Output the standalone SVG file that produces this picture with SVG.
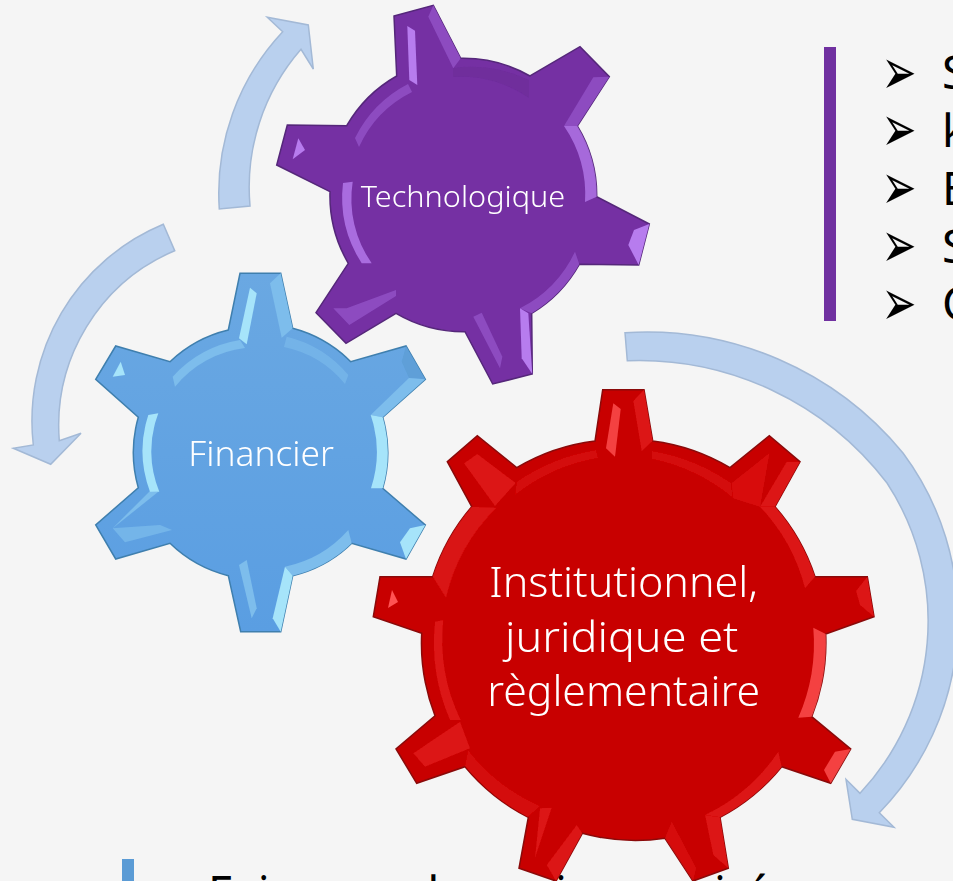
<svg xmlns="http://www.w3.org/2000/svg" width="953" height="881" viewBox="0 0 953 881">
<style>
.arrow{fill:#b9d0ee;stroke:#a3b9d6;stroke-width:1.5;stroke-linejoin:miter}
.label{font-family:"Noto Sans","Open Sans","Liberation Sans",sans-serif;fill:#fff;font-weight:300}
.body{font-family:"Noto Sans","Open Sans","Liberation Sans",sans-serif;fill:#000;font-size:46px}
.bul{font-family:"DejaVu Sans",sans-serif;fill:#000;font-size:38px}
.soft{filter:url(#soft)}
#gear-tech .base{fill:#7530a3;stroke:#55277a;stroke-width:1.5}
#gear-tech .hl{fill:#b77cee}
#gear-tech .mid{fill:#8d4cc0}
#gear-tech .low{fill:#6f2d9c}
#gear-fin .base{fill:url(#bluefill);stroke:#3f7fae;stroke-width:1.5}
#gear-fin .hl{fill:#a6e4fa}
#gear-fin .mid{fill:#7dbdec}
#gear-fin .low{fill:#5e9fd8}
#gear-inst .base{fill:#c80000;stroke:#8a0a0a;stroke-width:1.5}
#gear-inst .hl{fill:#ff5252}
#gear-inst .mid{fill:#dc1414}
#gear-inst .low{fill:#d40808}
</style>
<defs>
<filter id="soft" x="-5%" y="-5%" width="110%" height="110%"><feGaussianBlur stdDeviation="0.7"/></filter>
<linearGradient id="bluefill" x1="0" y1="0" x2="0" y2="1"><stop offset="0" stop-color="#6aa8e2"/><stop offset="1" stop-color="#5a9ee2"/></linearGradient>
</defs>
<rect width="953" height="881" fill="#f5f5f5"/>

<g id="connectors">
<path class="arrow" d="M163.3,224.3 A213 213 0 0 0 33.3,445 L13.3,448.3 L50.7,464.3 L81,433.3 L59.3,440.7 A190 190 0 0 1 174.7,250.7 Z"/>
<path class="arrow" d="M219.3,209 A236 236 0 0 1 282.7,31.7 L267.3,17.3 L308.3,25 L313.3,69 L301,49.3 A210 210 0 0 0 250,206 Z"/>
<path class="arrow" d="M625,332.7 A332 332 0 0 1 903,453 A278 278 0 0 1 879.3,812.7 L894,827.3 L852.3,819.3 L846,779.3 L860,793.3 A252 252 0 0 0 887,483 A312 312 0 0 0 627.3,360.7 Z"/>
</g>

<g id="list-top">
<rect x="824" y="47" width="12" height="274" fill="#7030a0"/>
<text class="bul" transform="translate(881.6,93.8) scale(1.1,1.7)">➢</text>
<text class="bul" transform="translate(881.6,151.3) scale(1.1,1.7)">➢</text>
<text class="bul" transform="translate(881.6,209.3) scale(1.1,1.7)">➢</text>
<text class="bul" transform="translate(881.6,267) scale(1.1,1.7)">➢</text>
<text class="bul" transform="translate(881.6,324.7) scale(1.1,1.7)">➢</text>
<text class="body" x="942" y="89">S</text>
<text class="body" x="942" y="147">k</text>
<text class="body" x="942" y="205">E</text>
<text class="body" x="942" y="263">S</text>
<text class="body" x="942" y="320">C</text>
</g>

<g id="list-bottom">
<rect x="122" y="859" width="12" height="22" fill="#5b9bd5"/>
<text class="bul" transform="translate(146.6,915.5) scale(1.1,1.7)">➢</text>
<text class="body" x="208" y="909">Fai</text>
<text class="body" x="411" y="909">d</text>
<text class="body" x="555" y="909">i</text>
<text class="body" x="714" y="909">i</text>
<text class="body" x="745" y="909">é</text>
</g>

<g id="gear-tech">
<path class="base" d="M394,16 L433.3,5.3 L460.7,58.3 A134 134 0 0 1 530,76 L580,46.7 L609.3,76.7 L577.3,126 A134 134 0 0 1 596.7,196.7 L649.3,224 L638.7,265 L579.3,264.3 A134 134 0 0 1 531.7,313.3 L532.3,374 L492.7,384 L465,331.7 A134 134 0 0 1 396,313.3 L346,343.3 L316,312.7 L348.3,263.3 A134 134 0 0 1 330,191.7 L276.7,165 L287.3,125 L346.7,125.7 A134 134 0 0 1 396.7,76 Z"/>
<g class="soft">
<path class="low" d="M453,68 A134 134 0 0 1 529,80 L529,98 A122 122 0 0 0 453,77 Z"/>
<path class="mid" d="M355,138 A122 122 0 0 1 408,84 L412,92 A114 114 0 0 0 359,147 Z"/>
<path class="mid" d="M428.3,16.7 L433.3,5.3 L460.7,58.3 L453.3,68.3 Z"/>
<path class="hl" d="M407.3,26 L415,30.7 L417.3,85 L409.3,80 Z"/>
<path class="mid" d="M593.3,77.3 L609.3,76.7 L577.3,126 L564,126 Z"/>
<path class="hl" d="M564,126 L577.3,126 A134 134 0 0 1 596.7,196.7 L585,202 A122 122 0 0 0 564,126 Z" opacity=".75"/>
<path class="hl" d="M649.3,224 L638.7,265 L628.3,245 L634,230 Z"/>
<path class="mid" d="M575,251.7 L579.3,264.3 A134 134 0 0 1 531.7,313.3 L520,308.3 A122 122 0 0 0 575,251.7 Z"/>
<path class="mid" d="M473.3,316.7 L481.7,312.7 L502.3,356.7 L500,368.3 Z"/>
<path class="hl" d="M520,308.3 L528.3,313.3 L532.3,374 L521.7,358.3 Z"/>
<path class="mid" d="M333.3,308.3 L349.3,325 L396,296 L396,290 L346.7,308.3 Z"/>
<path class="hl" d="M343,183 A122 122 0 0 0 361.7,263.3 L371.7,263.3 A112 112 0 0 1 352.7,181.7 Z" opacity=".8"/>
<path class="hl" d="M298.3,138.3 L305,150 L292.7,159.3 Z"/>
</g>
<text class="label" x="360.7" y="206.7" font-size="30" textLength="204.5" lengthAdjust="spacingAndGlyphs">Technologique</text>
</g>

<g id="gear-fin">
<path class="base" d="M228.3,330 L240,273.3 L280.7,273.3 L292.7,328.3 A128 128 0 0 1 350.7,361.7 L406,346 L425.3,379.3 L382.7,417.3 A128 128 0 0 1 382.7,488.3 L425.3,525 L406,559 L351.7,543.3 A128 128 0 0 1 292.7,575.7 L280.7,631.7 L240.7,631.7 L228.3,575.7 A128 128 0 0 1 170,543.3 L115.7,559 L95.7,525 L138.3,487.7 A128 128 0 0 1 138.3,417.3 L95.7,379.3 L115.7,346 L170,361.7 A128 128 0 0 1 228.3,330 Z"/>
<g class="soft">
<path class="hl" d="M250,287.7 L256.7,293.3 L246.7,344.3 L239,338.3 Z"/>
<path class="mid" d="M270,283.3 L280.7,273.3 L292.7,328.3 L281.7,337.7 Z"/>
<path class="hl" d="M120.7,361.7 L125,375 L112.7,376.7 Z"/>
<path class="mid" d="M172.7,376.7 A116 116 0 0 1 240,340 L245,348 A106 106 0 0 0 175,386.7 Z"/>
<path class="mid" d="M286.7,336.7 A116 116 0 0 1 348.3,375 L345,384 A106 106 0 0 0 284,347 Z" opacity=".6"/>
<path class="low" d="M406,346 L401.7,361.7 L409,378 L425.3,379.3 Z"/>
<path class="mid" d="M409,378 L425.3,379.3 L382.7,417.3 L370.7,415 Z"/>
<path class="hl" d="M370.7,415 L382.7,417.3 A128 128 0 0 1 382.7,488.3 L371,488.3 A116 116 0 0 0 370.7,415 Z"/>
<path class="hl" d="M410,528.3 L425.3,525 L406,559 L400,542.3 Z"/>
<path class="mid" d="M348.3,530 L351.7,543.3 A128 128 0 0 1 292.7,575.7 L285,566.7 A116 116 0 0 0 348.3,530 Z"/>
<path class="mid" d="M239,565 L246.7,560 L256.7,608.3 L251.7,618.3 Z"/>
<path class="hl" d="M285,566.7 L292.7,575.7 L280.7,631.7 L272.7,618.3 Z"/>
<path class="mid" d="M112.7,528.3 L158,492 L150,491 Z"/>
<path class="mid" d="M112.7,528.3 L125,542.3 L172,530 L160,525 Z" opacity=".7"/>
<path class="hl" d="M158.3,413.3 L148.3,415 A116 116 0 0 0 150,491.7 L159.3,491.7 A106 106 0 0 1 158.3,413.3 Z"/>
</g>
<text class="label" x="188.3" y="466" font-size="35" textLength="145.7" lengthAdjust="spacingAndGlyphs">Financier</text>
</g>

<g id="gear-inst">
<path class="base" d="M595,441 L602.7,389.7 L644,389.7 L652.7,441 A201 201 0 0 1 730,467.7 L769.3,435.7 L800,461.7 L775,506.7 A201 201 0 0 1 815,576.7 L867.3,576.7 L874,616.7 L825.7,634 A201 201 0 0 1 811.7,716.7 L850.7,749 L830.7,783.3 L781.7,766.7 A201 201 0 0 1 720,817.3 L728.3,868.3 L693,881 L665,838.3 A201 201 0 0 1 582.3,833.3 L556,881 L519,868.3 L528.3,817.3 A201 201 0 0 1 465,766.7 L416.7,783.3 L396,749 L435,715.7 A201 201 0 0 1 421.7,633.3 L373.3,616.7 L380,576.7 L432.7,576.7 A201 201 0 0 1 471.7,506.7 L447.3,461.7 L477.3,435.7 L516.7,467.7 A201 201 0 0 1 595,441 Z"/>
<g class="soft">
<path class="hl" d="M613.3,403.3 L620.7,409 L615,456.7 L606,448.3 Z" opacity=".8"/>
<path class="mid" d="M633.3,401 L644,389.7 L652.7,441 L641.7,451 Z"/>
<path class="mid" d="M464,463.3 L477.3,454 L515.7,483 L495,506 Z"/>
<path class="low" d="M516.7,481.7 A195 195 0 0 1 596,450 L598,458 A185 185 0 0 0 515,495 Z"/>
<path class="low" d="M652,451 A195 195 0 0 1 731,483 L733,498 A185 185 0 0 0 652,459 Z"/>
<path class="mid" d="M471.7,506.7 A201 201 0 0 0 432.7,576.7 L446,598 A185 185 0 0 1 496.7,507.7 Z" opacity=".85"/>
<path class="hl" d="M392,590 L398,602 L388,608 Z"/>
<path class="mid" d="M435,621.7 L443.3,620 A185 185 0 0 0 460.7,720 L450,720 A195 195 0 0 1 435,621.7 Z"/>
<path class="mid" d="M413.3,753.3 L425,766.7 L470,748.3 L460,721.7 Z"/>
<path class="low" d="M468,750 A185 185 0 0 0 540,806 L528,817 A201 201 0 0 1 465,766 Z"/>
<path class="mid" d="M540,808.3 L551.7,807.7 L535,858 Z"/>
<path class="mid" d="M576.7,825 L582.3,833.3 L556,881 L546.7,865 Z"/>
<path class="mid" d="M671.7,821.7 L665,838.3 L693,881 L696,868 Z" opacity=".7"/>
<path class="mid" d="M705,815 L720,817.3 L728.3,868.3 L713.3,855 Z"/>
<path class="mid" d="M705,815 L720,817.3 A201 201 0 0 0 781.7,766.7 L778.3,751.7 A185 185 0 0 1 705,815 Z"/>
<path class="hl" d="M850.7,749 L830.7,783.3 L824,770 L835,751.7 Z" opacity=".8"/>
<path class="hl" d="M798.3,717.7 L811.7,716.7 A201 201 0 0 0 825.7,634 L813.3,627.7 A185 185 0 0 1 798.3,717.7 Z" opacity=".8"/>
<path class="mid" d="M856,591 L867.3,576.7 L874,616.7 L860,605 Z"/>
<path class="mid" d="M775,506.7 L760,506.7 A185 185 0 0 1 805,588.3 L815,576.7 A201 201 0 0 0 775,506.7 Z"/>
<path class="mid" d="M786.7,461.7 L800,461.7 L775,506.7 L760,506.7 Z"/>
<path class="mid" d="M731.7,483.3 L769.3,453.3 L760,506.7 L733.3,498.3 Z" opacity=".8"/>
</g>
<text class="label" x="489.3" y="596.7" font-size="43" textLength="268.7" lengthAdjust="spacingAndGlyphs">Institutionnel,</text>
<text class="label" x="505" y="651.7" font-size="43" textLength="233.3" lengthAdjust="spacingAndGlyphs">juridique et</text>
<text class="label" x="487.3" y="706" font-size="43" textLength="272.7" lengthAdjust="spacingAndGlyphs">règlementaire</text>
</g>
</svg>
